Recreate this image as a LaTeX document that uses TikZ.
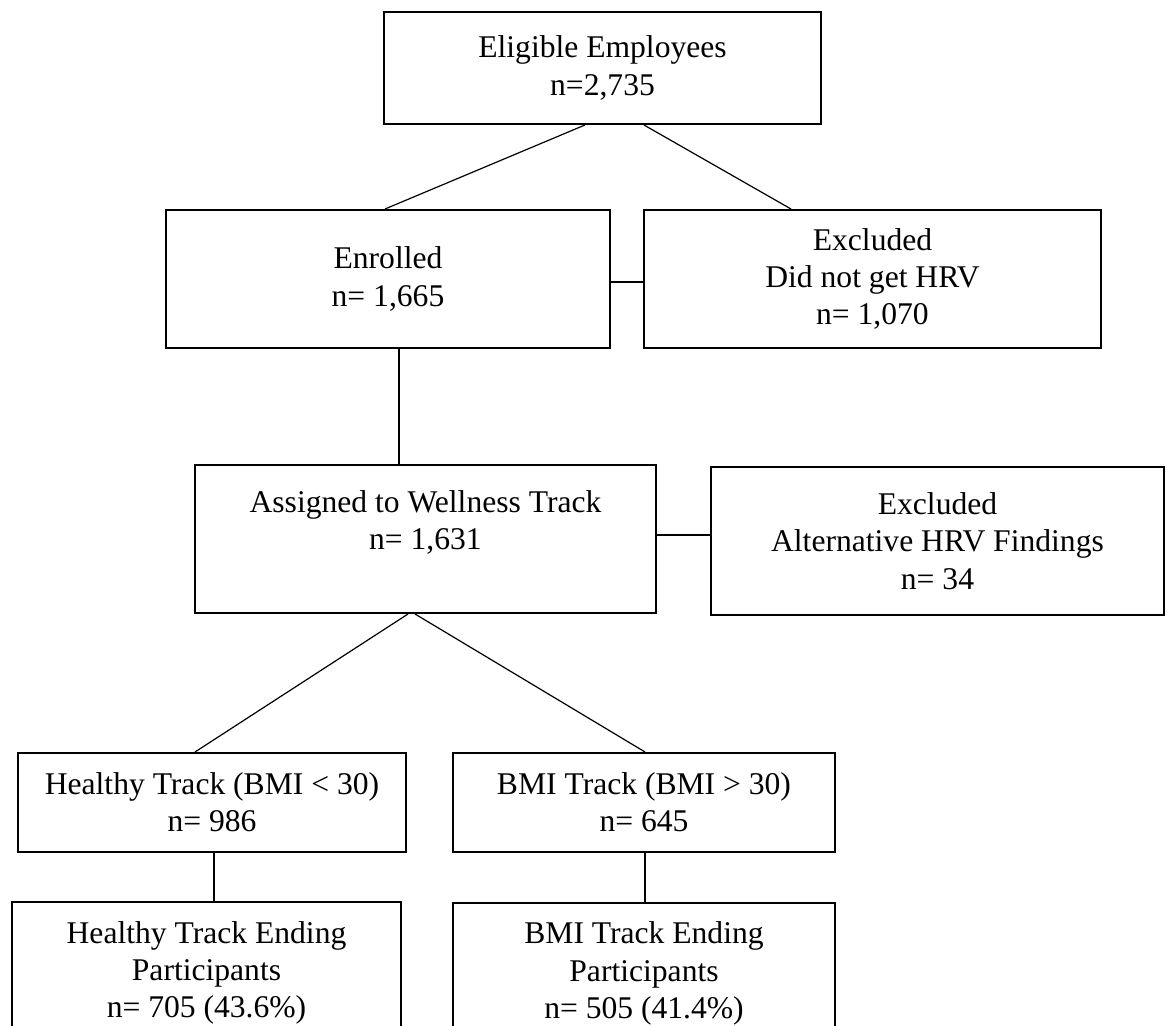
\documentclass[tikz,border=0pt]{standalone}
\usepackage{fontspec}
\setmainfont{Liberation Serif}
\usetikzlibrary{calc}
\tikzset{
  box/.style={draw, line width=1pt, inner sep=0pt, align=center,
    font=\fontsize{15.8pt}{18.6pt}\selectfont},
  conn/.style={line width=0.6pt}
}
\begin{document}
\begin{tikzpicture}[x=0.5pt,y=-0.5pt]
\clip (0,0) rectangle (1167,1026);
\fill[white] (0,0) rectangle (1167,1026);
\node[box, minimum width=218.5pt, minimum height=56pt] (elig) at (602.5,68) {Eligible Employees\\n=2,735};
\node[box, minimum width=222pt, minimum height=69pt] (enr) at (388,279) {Enrolled\\n= 1,665};
\node[box, minimum width=228.5pt, minimum height=69pt] (exc1) at (872.5,279) {Excluded\\Did not get HRV\\n= 1,070};
\node[box, minimum width=230.5pt, minimum height=74pt] (asg) at (425.5,539) {Assigned to Wellness Track\\n= 1,631\\\mbox{}};
\node[box, minimum width=226.5pt, minimum height=74pt] (exc2) at (937.5,541) {Excluded\\Alternative HRV Findings\\n= 34};
\node[box, minimum width=194pt, minimum height=49.5pt] (heal) at (212,802.5) {Healthy Track (BMI \textless{} 30)\\n= 986};
\node[box, minimum width=191pt, minimum height=49.5pt] (bmi) at (644,802.5) {BMI Track (BMI \textgreater{} 30)\\n= 645};
\node[box, minimum width=194.5pt, minimum height=71pt] (heal2) at (206.5,973) {Healthy Track Ending\\Participants\\n= 705 (43.6\%)};
\node[box, minimum width=191pt, minimum height=71pt] (bmi2) at (644,973.5) {BMI Track Ending\\Participants\\n= 505 (41.4\%)};
% anchor points of vertical connectors
\coordinate (v1) at ($(enr.south)+(11,0)$);
\coordinate (v2) at ($(heal.south)+(2,0)$);
\coordinate (v3) at ($(bmi.south)+(1,0)$);
% connectors
\draw[conn] ($(elig.south)+(-17.5,0)$) -- ($(enr.north)+(-3,0)$);
\draw[conn] ($(elig.south)+(41.5,0)$) -- ($(exc1.north)+(-81.5,0)$);
\draw[conn] ($(enr.east)+(0,3)$) -- ($(exc1.west)+(0,3)$);
\draw[conn] (v1) -- (v1 |- asg.north);
\draw[conn] ($(asg.east)+(0,-4)$) -- ($(exc2.west)+(0,-6)$);
\draw[conn] ($(asg.south)+(-17.5,0)$) -- ($(heal.north)+(-17,0)$);
\draw[conn] ($(asg.south)+(-10.5,0)$) -- ($(bmi.north)+(1,0)$);
\draw[conn] (v2) -- (v2 |- heal2.north);
\draw[conn] (v3) -- (v3 |- bmi2.north);
\end{tikzpicture}
\end{document}
